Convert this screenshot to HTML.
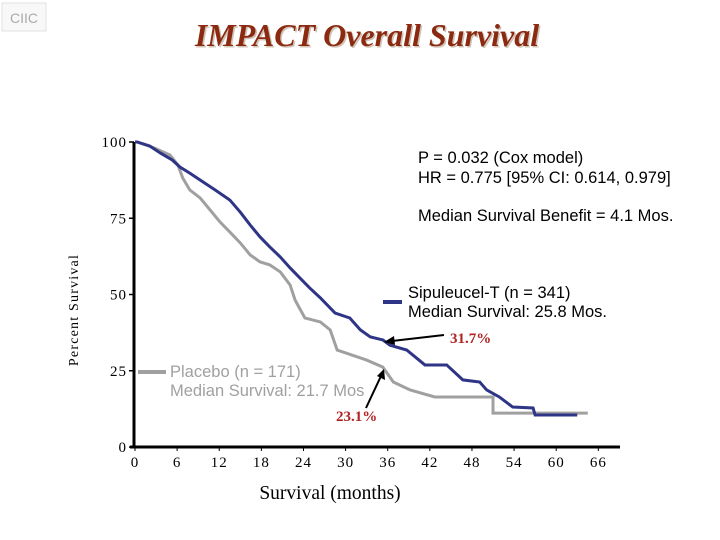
<!DOCTYPE html>
<html><head><meta charset="utf-8"><style>
body{margin:0;background:#fff;}
#wrap{position:relative;width:720px;height:540px;overflow:hidden;background:#fff;}
</style></head><body>
<div id="wrap">
<svg id="chart" width="720" height="540" viewBox="0 0 720 540">
  <g>
    <rect x="2" y="3" width="44" height="28" fill="#f8f8f8" stroke="#e2e2e2"/>
    <text x="24" y="23" text-anchor="middle" font-family="Liberation Sans, sans-serif" font-size="14" fill="#aaa">CIIC</text>
  </g>
  <text x="367" y="46" text-anchor="middle" font-family="Liberation Serif, serif" font-size="32" font-weight="bold" font-style="italic" fill="#d0c4b8" transform="translate(1.5,1.5)">IMPACT Overall Survival</text>
  <text x="367" y="46" text-anchor="middle" font-family="Liberation Serif, serif" font-size="32" font-weight="bold" font-style="italic" fill="#8b2a10">IMPACT Overall Survival</text>
  <g id="axes"></g>
  <g id="series"></g>
  <g font-family="Liberation Sans, sans-serif" font-size="16.5" fill="#000">
    <text x="418" y="163">P = 0.032 (Cox model)</text>
    <text x="418" y="183">HR = 0.775 [95% CI: 0.614, 0.979]</text>
    <text x="418" y="221">Median Survival Benefit = 4.1 Mos.</text>
    <text x="408" y="298">Sipuleucel-T (n = 341)</text>
    <text x="408" y="317">Median Survival: 25.8 Mos.</text>
  </g>
  <g font-family="Liberation Sans, sans-serif" font-size="16.5" fill="#a0a0a0">
    <text x="170" y="377">Placebo (n = 171)</text>
    <text x="170" y="396">Median Survival: 21.7 Mos</text>
  </g>
  <line x1="383" y1="302" x2="402" y2="302" stroke="#2e3586" stroke-width="4"/>
  <line x1="138" y1="372" x2="166" y2="372" stroke="#a0a0a0" stroke-width="4"/>
  <text x="450" y="343" font-family="Liberation Serif, serif" font-size="15" font-weight="bold" fill="#b22222">31.7%</text>
  <text x="336" y="421" font-family="Liberation Serif, serif" font-size="15" font-weight="bold" fill="#b22222">23.1%</text>
  <g>
    <line x1="444" y1="335" x2="392" y2="341" stroke="#000" stroke-width="2"/>
    <polygon points="384,342 394,336 395,345" fill="#000"/>
    <line x1="366" y1="408" x2="381" y2="376" stroke="#000" stroke-width="2"/>
    <polygon points="384,369 385,380 377,376" fill="#000"/>
  </g>
  <text x="78" y="310" transform="rotate(-90 78 310)" text-anchor="middle" font-family="Liberation Serif, serif" font-size="14" letter-spacing="1.2">Percent Survival</text>
  <text x="330" y="499" text-anchor="middle" font-family="Liberation Serif, serif" font-size="19.5">Survival (months)</text>
</svg>
</div>
<script>
const xTicks = [0,6,12,18,24,30,36,42,48,54,60,66];
const yTicks = [0,25,50,75,100];
const sipMonths = [0,0.3,2.1,3.6,5.3,6.4,7.8,9.3,11.4,13.5,15.0,16.4,17.8,19.2,20.7,22.1,23.5,24.9,26.4,28.5,30.6,32.1,33.5,35.3,36.3,38.7,41.3,44.4,46.7,49.1,50.1,51.9,53.8,56.7,57.0,63.0];
const sipPct = [100,100,98.7,96.4,94.1,91.8,89.8,87.5,84.3,81.0,77.0,72.8,68.9,65.6,62.3,58.7,55.4,52.1,48.9,43.9,42.3,38.4,36.1,35.1,33.4,31.8,26.9,26.9,22.0,21.3,18.7,16.4,13.1,12.8,10.5,10.5];
const plaMonths = [0,0.3,2.8,5.0,6.1,6.8,7.8,9.3,10.7,12.1,13.5,15.0,16.4,17.8,19.2,20.7,22.1,22.8,24.2,26.4,27.8,28.8,33.0,35.3,36.8,39.2,42.7,51.0,51.0,64.5];
const plaPct = [100,100,98,95.7,92.5,88.2,84.3,81.6,77.7,73.8,70.5,66.9,63.0,60.7,59.7,57.4,53.1,48.2,42.3,41.0,38.4,31.8,28.5,26.2,21.3,18.7,16.4,16.4,11.1,11.1];

const NS='http://www.w3.org/2000/svg';
const x0=135, pxPerMonth=7.02, y0=447, pxPerPct=3.05;
function xS(m){return x0+m*pxPerMonth;}
function yS(p){return y0-p*pxPerPct;}
function mk(tag,attrs,parent){const e=document.createElementNS(NS,tag);for(const k in attrs)e.setAttribute(k,attrs[k]);parent.appendChild(e);return e;}
const axes=document.getElementById('axes');
const xa=mk('line',{x1:130,y1:y0,x2:620,y2:y0,stroke:'#000','stroke-width':3},axes);


const ya=mk('line',{x1:134,y1:yS(100),x2:134,y2:y0,stroke:'#000','stroke-width':3},axes);


xTicks.forEach(t=>{
  const tk=mk('line',{x1:xS(t),y1:y0,x2:xS(t),y2:y0+4,stroke:'#000','stroke-width':1},axes);
  
  
  const lb=mk('text',{x:xS(t),y:467,'text-anchor':'middle','font-family':'Liberation Serif, serif','font-size':15,'letter-spacing':1},axes);
  lb.textContent=String(t);
  
  
});
yTicks.forEach(t=>{
  const tk=mk('line',{x1:129,y1:yS(t),x2:134,y2:yS(t),stroke:'#000','stroke-width':1.5},axes);
  
  
  const lb=mk('text',{x:127,y:yS(t)+5,'text-anchor':'end','font-family':'Liberation Serif, serif','font-size':15,'letter-spacing':1},axes);
  lb.textContent=String(t);
  
  
});
function curvePath(ms,ps){
  let d='M'+xS(ms[0])+','+yS(ps[0]);
  for(let i=1;i<ms.length;i++){d+=' L'+xS(ms[i])+','+yS(ps[i]);}
  return d;
}
const series=document.getElementById('series');
const pl=mk('path',{d:curvePath(plaMonths,plaPct),fill:'none',stroke:'#a0a0a0','stroke-width':3,'stroke-linejoin':'miter'},series);


const sp=mk('path',{d:curvePath(sipMonths,sipPct),fill:'none',stroke:'#2e3586','stroke-width':3,'stroke-linejoin':'miter'},series);


</script>
</body></html>
